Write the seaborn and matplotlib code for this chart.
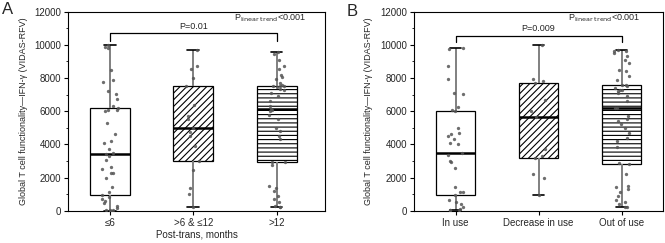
import numpy as np
import pandas as pd
import matplotlib
matplotlib.use("Agg")
import matplotlib.pyplot as plt
import seaborn as sns
from matplotlib.ticker import MultipleLocator

# ---------------- data ----------------
cats_a = ["≤6", ">6 & ≤12", ">12"]
a_le6 = [0, 20, 40, 60, 150, 300, 450, 600, 700, 850, 930, 1150, 1400, 1950,
         2250, 2300, 2500, 2650, 3050, 3300, 3420, 3500, 3700, 4100, 4200, 4600,
         5300, 6000, 6050, 6100, 6190, 6300, 6750, 7050, 7200, 7750, 7900, 8500,
         9800, 9900, 9990]
a_6to12 = [200, 1000, 1350, 2450, 3000, 3900, 4500, 4750, 4990, 5500, 5700,
           6400, 7540, 8000, 8550, 8750, 9690]
a_gt12 = [200, 250, 300, 550, 700, 900, 1200, 1350, 1500, 2750, 2940, 2950,
          4300, 4500, 4800, 5000, 5500, 5800, 6000, 6100, 6150, 6300, 6600, 6900,
          7100, 7250, 7350, 7450, 7500, 7520, 7540, 7600, 7700, 7950, 8050, 8200,
          8550, 8750, 9100, 9450, 9590]

cats_b = ["In use", "Decrease in use", "Out of use"]
b_inuse = [20, 30, 50, 100, 200, 400, 550, 650, 925, 1100, 1150, 1400, 2600,
           2950, 3000, 3350, 3460, 4050, 4100, 4300, 4500, 4600, 4700, 5000, 6030,
           6050, 6250, 7050, 7100, 7950, 8700, 9750, 9830]
b_decrease = [950, 1950, 2200, 3150, 3300, 3750, 5680, 6000, 6700, 7720, 7850,
              7950, 10000]
b_outofuse = [230, 250, 400, 500, 650, 900, 1100, 1300, 1400, 1500, 2200, 2820,
              2900, 3850, 4200, 4400, 4700, 5000, 5200, 5400, 5500, 5700, 6170,
              6200, 6600, 6900, 7100, 7200, 7250, 7300, 7400, 7500, 7550, 7600,
              7900, 8100, 8400, 8500, 8900, 9100, 9300, 9500, 9600, 9650, 9700]

ylabel = "Global T cell functionality\u2014IFN-\u03b3 (VIDAS-RFV)"
p_pair_a = "P=0.01"
p_pair_b = "P=0.009"
p_trend = r"P$_{\mathrm{linear\ trend}}$<0.001"

# ---------------- style ----------------
sns.set_theme(style="ticks")
plt.rcParams["font.family"] = ["Liberation Sans", "DejaVu Sans"]
plt.rcParams["mathtext.default"] = "regular"
plt.rcParams["hatch.linewidth"] = 0.8
plt.rcParams["hatch.color"] = "black"

np.random.seed(3)

fig = plt.figure(figsize=(6.65, 2.43), dpi=100)
axA = fig.add_axes([0.1027, 0.1329, 0.386, 0.819])
axB = fig.add_axes([0.6226, 0.1329, 0.3744, 0.819])


def panel(ax, cats, groups, hatches, xlim, ptext, br_lo, br_hi, ptxt_y,
          trend_x, xlabel):
    df = pd.DataFrame({
        "cat": sum([[c] * len(g) for c, g in zip(cats, groups)], []),
        "val": sum([list(g) for g in groups], []),
    })
    sns.boxplot(data=df, x="cat", y="val", order=cats, whis=(0, 100),
                width=0.48, color="white", linecolor="black", linewidth=0.9,
                fliersize=0, ax=ax,
                whiskerprops=dict(color="#808080", linewidth=1.4),
                capprops=dict(color="black", linewidth=1.2),
                medianprops=dict(color="black", linewidth=1.8))
    boxes = [p for p in ax.patches]
    boxes.sort(key=lambda p: p.get_path().vertices[:, 0].mean())
    for p, h in zip(boxes, hatches):
        p.set_edgecolor("black")
        p.set_facecolor("white")
        if h:
            p.set_hatch(h)
    # shorten caps
    for l in ax.lines:
        x = np.asarray(l.get_xdata(), dtype=float)
        y = np.asarray(l.get_ydata(), dtype=float)
        if len(x) == 2 and y[0] == y[1] and abs(x[1] - x[0]) < 0.3:
            c = x.mean()
            l.set_xdata([c - 0.07, c + 0.07])
    sns.stripplot(data=df, x="cat", y="val", order=cats, jitter=0.1, size=2.4,
                  color="#555555", alpha=0.85, linewidth=0, zorder=3, ax=ax)
    ax.set_xlim(*xlim)
    ax.set_ylim(0, 12000)
    ax.yaxis.set_major_locator(MultipleLocator(2000))
    ax.yaxis.set_minor_locator(MultipleLocator(1000))
    ax.tick_params(axis="both", which="major", labelsize=7, length=3,
                   width=0.8, pad=2, color="black")
    ax.tick_params(axis="y", which="minor", length=1.8, width=0.7)
    for s in ax.spines.values():
        s.set_visible(True)
        s.set_linewidth(0.8)
        s.set_color("black")
    ax.set_ylabel(ylabel, fontsize=6.5, labelpad=5)
    ax.set_xlabel(xlabel, fontsize=7, labelpad=1)
    ax.plot([0, 0, 2, 2], [br_lo, br_hi, br_hi, br_lo], color="black", lw=0.9)
    ax.text(1, ptxt_y, ptext, ha="center", va="bottom", fontsize=6.5)
    ax.text(trend_x, 11620, p_trend, ha="right", va="center", fontsize=6.5)


panel(axA, cats_a, [a_le6, a_6to12, a_gt12], ["", "/////", "----"],
      (-0.5, 2.58), p_pair_a, 10250, 10700, 10850, 2.36,
      "Post-trans, months")
panel(axB, cats_b, [b_inuse, b_decrease, b_outofuse], ["", "/////", "----"],
      (-0.5, 2.5), p_pair_b, 10190, 10550, 10700, 2.23, "")

fig.text(0.003, 0.99, "A", fontsize=12, va="top", ha="left")
fig.text(347 / 665, 0.985, "B", fontsize=12, va="top", ha="left")

fig.savefig("out.png", dpi=100)
